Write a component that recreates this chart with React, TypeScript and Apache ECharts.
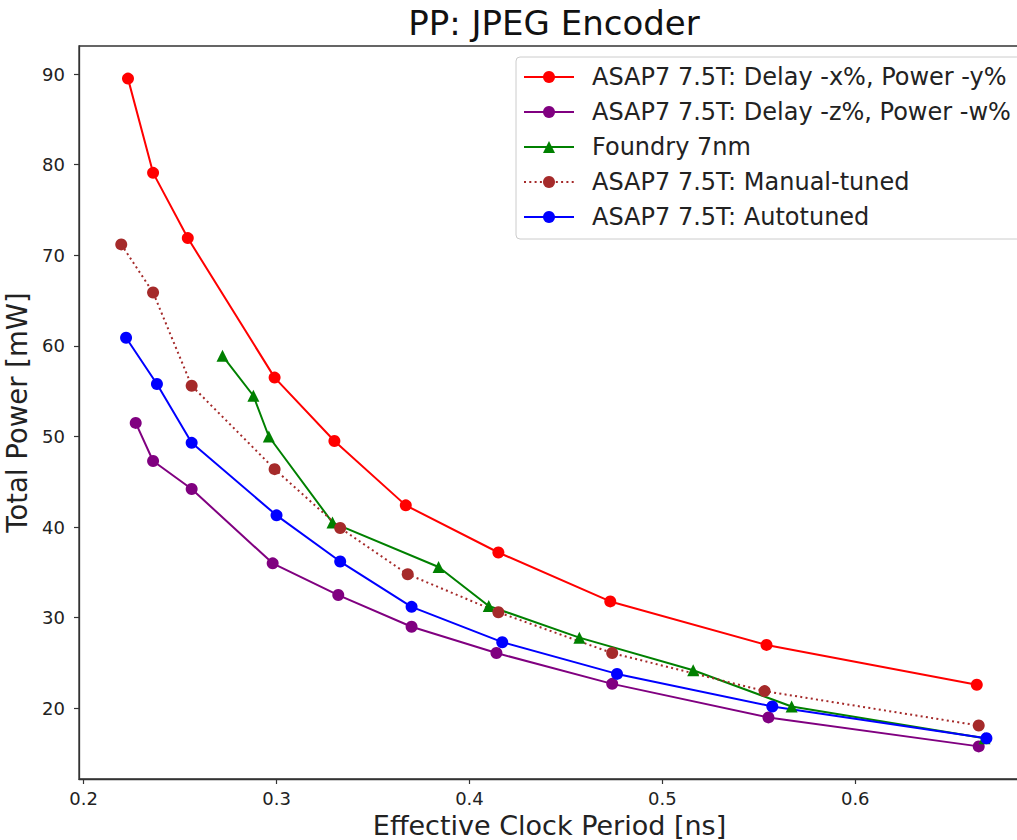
import React, { useEffect, useRef } from "react";
import * as echarts from "echarts";

const seriesNames = [
  "ASAP7 7.5T: Delay -x%, Power -y%",
  "ASAP7 7.5T: Delay -z%, Power -w%",
  "Foundry 7nm",
  "ASAP7 7.5T: Manual-tuned",
  "ASAP7 7.5T: Autotuned",
];

const redX = [0.223, 0.236, 0.254, 0.299, 0.330, 0.367, 0.415, 0.473, 0.554, 0.663];
const redY = [89.5, 79.1, 71.9, 56.5, 49.5, 42.4, 37.2, 31.8, 27.0, 22.6];

const purpleX = [0.227, 0.236, 0.256, 0.298, 0.332, 0.370, 0.414, 0.474, 0.555, 0.664];
const purpleY = [51.5, 47.3, 44.2, 36.0, 32.5, 29.0, 26.1, 22.7, 19.0, 15.8];

const greenX = [0.272, 0.288, 0.296, 0.329, 0.384, 0.410, 0.457, 0.516, 0.567, 0.667];
const greenY = [58.9, 54.5, 50.0, 40.5, 35.6, 31.3, 27.8, 24.2, 20.2, 16.7];

const brownX = [0.2195, 0.236, 0.256, 0.299, 0.333, 0.368, 0.415, 0.474, 0.553, 0.664];
const brownY = [71.2, 65.9, 55.6, 46.4, 39.9, 34.8, 30.6, 26.1, 21.9, 18.1];

const blueX = [0.222, 0.238, 0.256, 0.300, 0.333, 0.370, 0.417, 0.4765, 0.557, 0.668];
const blueY = [60.9, 55.8, 49.3, 41.3, 36.2, 31.2, 27.3, 23.8, 20.2, 16.7];

const xTicks = [0.2, 0.3, 0.4, 0.5, 0.6];
const yTicks = [20, 30, 40, 50, 60, 70, 80, 90];

const zip = (xs: number[], ys: number[]) => xs.map((x, i) => [x, ys[i]]);

const FONT = "DejaVu Sans";
const TEXT = "#222";

export default function App() {
  const ref = useRef<HTMLDivElement>(null);

  useEffect(() => {
    if (!ref.current) return;
    const chart = echarts.init(ref.current, undefined, { renderer: "svg" });

    const mk = (
      name: string,
      color: string,
      xs: number[],
      ys: number[],
      symbol: string,
      size: number,
      lineType: any = "solid"
    ) => ({
      name,
      type: "line",
      data: zip(xs, ys),
      symbol,
      symbolSize: size,
      showSymbol: true,
      color,
      itemStyle: { color },
      lineStyle: { color, width: 2, type: lineType },
      emphasis: { disabled: true },
    });

    chart.setOption({
      animation: false,
      textStyle: { fontFamily: FONT },
      title: {
        text: "PP: JPEG Encoder",
        left: 549,
        top: 1,
        textAlign: "center",
        textStyle: { fontFamily: FONT, fontSize: 34, fontWeight: "normal", color: "#111" },
      },
      legend: {
        orient: "vertical",
        left: 516,
        top: 57,
        padding: [8, 10, 10, 7],
        itemWidth: 50,
        itemHeight: 15,
        itemGap: 11,
        borderColor: "#ccc",
        borderWidth: 1,
        borderRadius: 4,
        backgroundColor: "rgba(255,255,255,0.85)",
        textStyle: {
          fontFamily: FONT,
          fontSize: 24,
          color: TEXT,
          lineHeight: 24,
          padding: [0, 0, 0, 13],
        },
        data: seriesNames,
      },
      grid: {
        left: 79,
        top: 46,
        width: 941,
        height: 733,
        containLabel: false,
        outerBoundsMode: "none",
        show: true,
        borderColor: "#333",
        borderWidth: 1.3,
        backgroundColor: "transparent",
      },
      xAxis: {
        type: "value",
        min: 0.1976,
        max: 0.6854,
        name: "Effective Clock Period [ns]",
        nameLocation: "middle",
        nameGap: 31,
        nameTextStyle: { fontFamily: FONT, fontSize: 27, color: TEXT },
        axisLine: { show: true, lineStyle: { color: "#333", width: 1.3 } },
        axisTick: { show: true, inside: false, length: 5, customValues: xTicks, lineStyle: { color: "#333", width: 1.2 } },
        axisLabel: {
          customValues: xTicks,
          fontFamily: FONT,
          fontSize: 18,
          color: TEXT,
          margin: 10,
          formatter: (v: number) => v.toFixed(1),
        },
        splitLine: { show: false },
      },
      yAxis: {
        type: "value",
        min: 12.2,
        max: 93.1,
        name: "Total Power [mW]",
        nameLocation: "middle",
        nameGap: 47,
        nameTextStyle: { fontFamily: FONT, fontSize: 27.5, color: TEXT },
        axisLine: { show: true, lineStyle: { color: "#333", width: 1.3 } },
        axisTick: { show: true, inside: false, length: 5, customValues: yTicks, lineStyle: { color: "#333", width: 1.2 } },
        axisLabel: {
          customValues: yTicks,
          fontFamily: FONT,
          fontSize: 18,
          color: TEXT,
          margin: 14,
          formatter: (v: number) => String(v),
        },
        splitLine: { show: false },
      },
      series: [
        mk(seriesNames[0], "#ff0000", redX, redY, "circle", 12),
        mk(seriesNames[1], "#800080", purpleX, purpleY, "circle", 12),
        mk(seriesNames[2], "#008000", greenX, greenY, "triangle", 12),
        mk(seriesNames[3], "#a52a2a", brownX, brownY, "circle", 12, [2, 3.3]),
        mk(seriesNames[4], "#0000ff", blueX, blueY, "circle", 12),
      ],
    });

    return () => chart.dispose();
  }, []);

  return (
    <div
      ref={ref}
      style={{ position: "absolute", left: 0, top: 0, width: 1017, height: 840, background: "#fff" }}
    />
  );
}
